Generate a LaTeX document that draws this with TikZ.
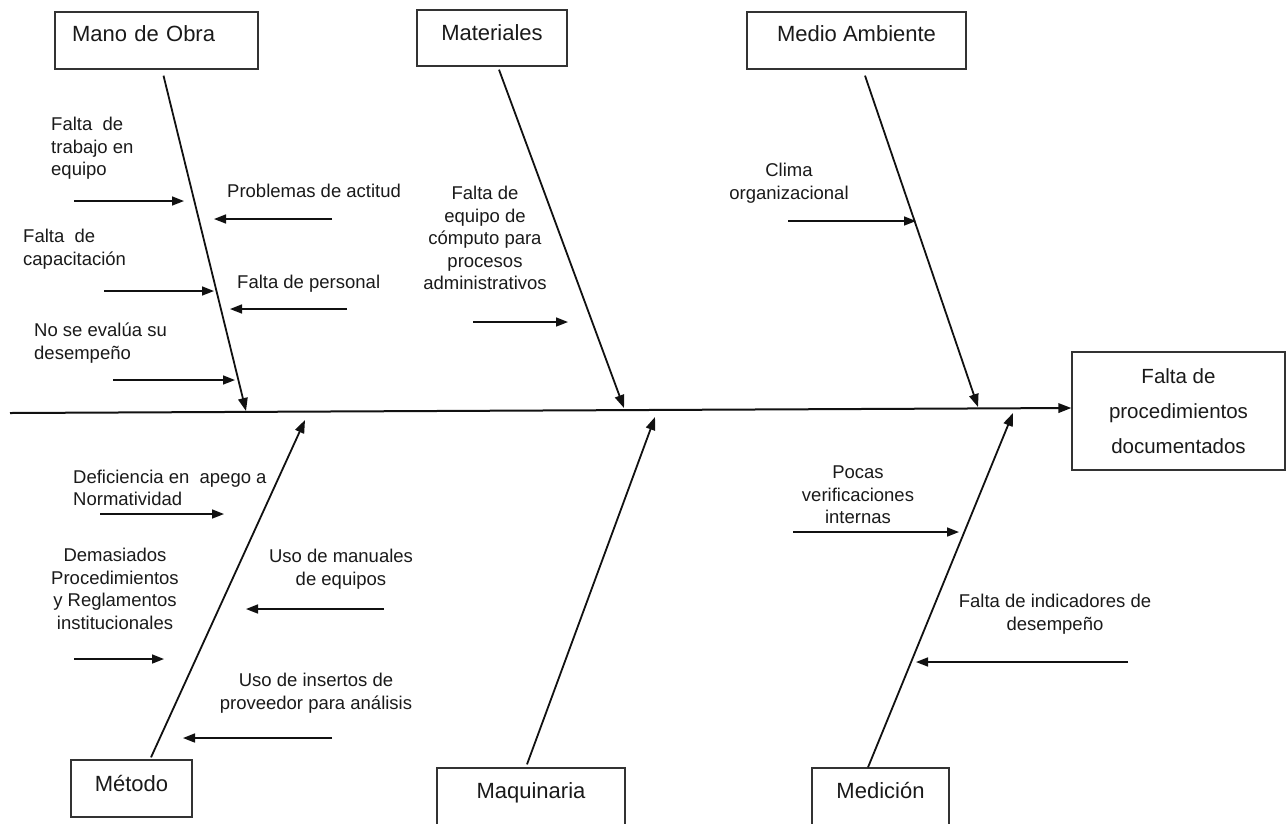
\documentclass[tikz,border=0pt]{standalone}
\usepackage{fontspec}
\setmainfont{Liberation Sans}
\usetikzlibrary{arrows.meta, positioning, calc}
\definecolor{fbLine}{HTML}{111111}
\definecolor{fbBox}{HTML}{333333}
\definecolor{fbText}{HTML}{1A1A1A}

\begin{document}
\begin{tikzpicture}[x=1pt, y=-1pt,
    catbox/.style={draw=fbBox, line width=1.3pt, text=fbText, inner sep=0pt,
                   font=\fontsize{22}{26}\selectfont, text height=16pt},
    causetext/.style={text=fbText, inner sep=0pt, font=\fontsize{18.5}{22.5}\selectfont},
    cause/.style={-{Triangle[length=12pt, width=9pt]}, line width=1.6pt, fbLine},
    bone/.style={-{Triangle[length=13pt, width=9.5pt]}, line width=1.8pt, fbLine}]
  \useasboundingbox (0,0) rectangle (1287,823);
  \clip (0,0) rectangle (1287,823);
  \fill[white] (0,0) rectangle (1287,823);

  \node[catbox, minimum width=203pt, minimum height=57pt, text depth=15pt,
        text width=169pt, align=left] (mano) at (156.5,40.5) {Mano de Obra};
  \node[catbox, minimum width=150pt, minimum height=56pt, text depth=12pt] (mate) at (492,38) {Materiales};
  \node[catbox, minimum width=219pt, minimum height=57pt, text depth=15pt] (medio) at (856.5,40.5) {Medio Ambiente};
  \node[catbox, minimum width=121pt, minimum height=57pt, text depth=11pt] (metodo) at (131.5,788.5) {Método};
  \node[catbox, minimum width=188pt, minimum height=60pt, text depth=16pt] (maqui) at (531,798) {Maquinaria};
  \node[catbox, minimum width=137pt, minimum height=60pt, text depth=16pt] (medicion) at (880.5,798) {Medición};
  \node[draw=fbBox, line width=1.3pt, text=fbText, font=\fontsize{20.5}{35}\selectfont,
        align=center, minimum width=213pt, minimum height=118pt] (efecto) at (1178.5,411)
        {Falta de\\procedimientos\\documentados};

  \coordinate (tail) at (10,413);
  \draw[bone, line width=2pt] (tail) -- ([yshift=3pt]efecto.west);

  \coordinate (manoTip) at (246,411);
  \coordinate (mateTip) at (624,408);
  \coordinate (medioTip) at (978,407);
  \coordinate (metodoTip) at (305,420);
  \coordinate (maquiTip) at (655,417);
  \coordinate (medicionTip) at (1013,413);
  \draw[bone] ([xshift=7pt, yshift=-6pt]mano.south) -- (manoTip);
  \draw[bone] ([xshift=7pt, yshift=-3pt]mate.south) -- (mateTip);
  \draw[bone] ([xshift=8.5pt, yshift=-6pt]medio.south) -- (medioTip);
  \draw[bone] ([xshift=19.5pt, yshift=2pt]metodo.north) -- (metodoTip);
  \draw[bone] ([xshift=-4pt, yshift=3pt]maqui.north) -- (maquiTip);
  \draw[bone] ([xshift=-12.5pt]medicion.north) -- (medicionTip);

  \node[causetext, anchor=west, align=left] (trabajo) at (51,148.5) {Falta\ \ de\\trabajo en\\equipo};
  \node[causetext, anchor=west] (actitud) at (227,191) {Problemas de actitud};
  \node[causetext, anchor=west, align=left] (capacit) at (23,249) {Falta\ \ de\\capacitación};
  \node[causetext, anchor=west] (personal) at (237,284) {Falta de personal};
  \node[causetext, anchor=west, align=left] (evalua) at (34,343) {No se evalúa su\\desempeño};
  \node[causetext, align=center] (computo) at (485,238)
        {Falta de\\equipo de\\cómputo para\\procesos\\administrativos};
  \node[causetext, align=center] (clima) at (789,183) {Clima\\organizacional};
  \node[causetext, anchor=west, align=left] (normas) at (73,488) {Deficiencia en\ \ apego a\\Normatividad};
  \node[causetext, align=center] (reglas) at (115,589)
        {Demasiados\\Procedimientos\\y Reglamentos\\institucionales};
  \node[causetext, align=center] (manuales) at (341,569) {Uso de manuales\\de equipos};
  \node[causetext, align=center] (insertos) at (316,693) {Uso de insertos de\\proveedor para análisis};
  \node[causetext, align=center] (verific) at (858,495) {Pocas\\verificaciones\\internas};
  \node[causetext, align=center] (indicad) at (1055,614) {Falta de indicadores de\\desempeño};

  \coordinate (trabajoS) at (74,201);   \coordinate (trabajoE) at (184,201);
  \coordinate (actitudS) at (332,219);  \coordinate (actitudE) at (214,219);
  \coordinate (capacitS) at (104,291);  \coordinate (capacitE) at (214,291);
  \coordinate (personalS) at (347,309); \coordinate (personalE) at (230,309);
  \coordinate (evaluaS) at (113,380);   \coordinate (evaluaE) at (235,380);
  \coordinate (computoS) at (473,322);  \coordinate (computoE) at (568,322);
  \coordinate (climaS) at (788,221);    \coordinate (climaE) at (916,221);
  \coordinate (normasS) at (100,514);   \coordinate (normasE) at (224,514);
  \coordinate (reglasS) at (74,659);    \coordinate (reglasE) at (164,659);
  \coordinate (manualesS) at (384,609); \coordinate (manualesE) at (246,609);
  \coordinate (insertosS) at (332,738); \coordinate (insertosE) at (183,738);
  \coordinate (verificS) at (793,532);  \coordinate (verificE) at (959,532);
  \coordinate (indicadS) at (1128,662); \coordinate (indicadE) at (916,662);

  \draw[cause] (trabajoS) -- (trabajoE);
  \draw[cause] (actitudS) -- (actitudE);
  \draw[cause] (capacitS) -- (capacitE);
  \draw[cause] (personalS) -- (personalE);
  \draw[cause] (evaluaS) -- (evaluaE);
  \draw[cause] (computoS) -- (computoE);
  \draw[cause] (climaS) -- (climaE);
  \draw[cause] (normasS) -- (normasE);
  \draw[cause] (reglasS) -- (reglasE);
  \draw[cause] (manualesS) -- (manualesE);
  \draw[cause] (insertosS) -- (insertosE);
  \draw[cause] (verificS) -- (verificE);
  \draw[cause] (indicadS) -- (indicadE);
\end{tikzpicture}
\end{document}
